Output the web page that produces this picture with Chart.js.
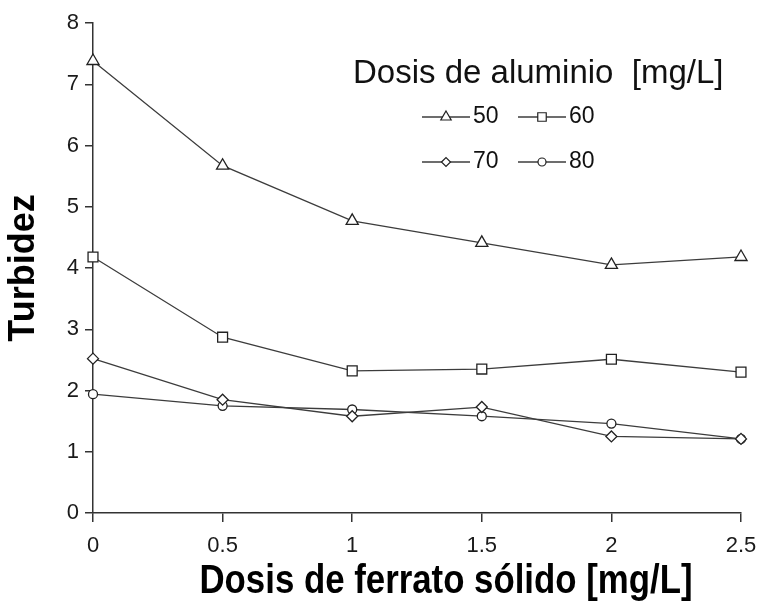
<!DOCTYPE html>
<html>
<head>
<meta charset="utf-8">
<script src="https://cdn.jsdelivr.net/npm/chart.js@4/dist/chart.umd.min.js"></script>
<style>
  html, body { margin: 0; padding: 0; background: #ffffff; }
  canvas { display: block; }
</style>
</head>
<body>
<canvas id="c" width="759" height="607"></canvas>
<script>
// ---- data ----
const doses = [0, 0.5, 1, 1.5, 2, 2.5];           // Dosis de ferrato sólido [mg/L]
const al50 = [7.38, 5.67, 4.77, 4.41, 4.05, 4.18];
const al60 = [4.18, 2.87, 2.32, 2.35, 2.51, 2.30];
const al70 = [2.52, 1.85, 1.58, 1.73, 1.25, 1.21];
const al80 = [1.94, 1.75, 1.69, 1.58, 1.46, 1.21];
const seriesLabels = ['50', '60', '70', '80'];
const seriesValues = [al50, al60, al70, al80];
const xTickValues = [0, 0.5, 1, 1.5, 2, 2.5];
const xTickLabels = ['0', '0.5', '1', '1.5', '2', '2.5'];
const yTickValues = [0, 1, 2, 3, 4, 5, 6, 7, 8];
const yTickLabels = ['0', '1', '2', '3', '4', '5', '6', '7', '8'];
const legendTitle = 'Dosis de aluminio  [mg/L]';
const xTitle = 'Dosis de ferrato sólido [mg/L]';
const yTitle = 'Turbidez';

const markerStyles = ['triangle', 'rect', 'rectRot', 'circle'];
const markerRadii = [7, 7, 5.5, 4.5];
const legendRadii = [6, 6, 4.5, 4];

const FONT = "'Liberation Sans', Arial, Helvetica, sans-serif";
const INK = '#1a1a1a';
const LINE = '#3c3c3c';

const datasets = seriesValues.map((vals, i) => ({
  label: seriesLabels[i],
  data: doses.map((d, j) => ({ x: d, y: vals[j] })),
  borderColor: LINE,
  borderWidth: 1.3,
  pointStyle: markerStyles[i],
  pointRadius: markerRadii[i],
  pointBackgroundColor: '#ffffff',
  pointBorderColor: '#222222',
  pointBorderWidth: 1.3,
  tension: 0,
  fill: false,
  clip: false
}));

function drawMarker(ctx, style, r, x, y) {
  ctx.beginPath();
  if (style === 'circle') {
    ctx.arc(x, y, r, 0, Math.PI * 2);
  } else if (style === 'rect') {
    const s = Math.SQRT1_2 * r;
    ctx.rect(x - s, y - s, 2 * s, 2 * s);
  } else if (style === 'rectRot') {
    ctx.moveTo(x - r, y); ctx.lineTo(x, y - r); ctx.lineTo(x + r, y); ctx.lineTo(x, y + r);
  } else if (style === 'triangle') {
    let a = 0;
    ctx.moveTo(x + Math.sin(a) * r, y - Math.cos(a) * r);
    a += 2 * Math.PI / 3;
    ctx.lineTo(x + Math.sin(a) * r, y - Math.cos(a) * r);
    a += 2 * Math.PI / 3;
    ctx.lineTo(x + Math.sin(a) * r, y - Math.cos(a) * r);
  }
  ctx.closePath();
  ctx.fill();
  ctx.stroke();
}

const annotationsPlugin = {
  id: 'legendAndTitle',
  afterDraw(chart) {
    const ctx = chart.ctx;
    ctx.save();
    // legend title
    ctx.fillStyle = '#111';
    ctx.font = '33px ' + FONT;
    ctx.textBaseline = 'middle';
    ctx.textAlign = 'left';
    ctx.fillText(legendTitle, 353, 74);

    // legend entries (2 x 2)
    const colX = [422, 518];
    const rowY = [117, 162];
    const lineLen = 48;
    chart.data.datasets.forEach((ds, i) => {
      const x0 = colX[i % 2];
      const y0 = rowY[Math.floor(i / 2)];
      ctx.strokeStyle = LINE;
      ctx.lineWidth = 1.3;
      ctx.beginPath();
      ctx.moveTo(x0, y0);
      ctx.lineTo(x0 + lineLen, y0);
      ctx.stroke();
      ctx.fillStyle = '#ffffff';
      ctx.strokeStyle = '#222222';
      ctx.lineWidth = 1.2;
      drawMarker(ctx, ds.pointStyle, legendRadii[i], x0 + lineLen / 2, y0);
      ctx.fillStyle = '#111';
      ctx.font = '23px ' + FONT;
      ctx.textBaseline = 'middle';
      ctx.textAlign = 'left';
      ctx.fillText(ds.label, x0 + lineLen + 3, y0);
    });

    // x axis title (tall, condensed bold lettering as in the reference)
    ctx.save();
    ctx.translate(446, 582);
    ctx.scale(0.87, 1);
    ctx.fillStyle = '#000';
    ctx.font = 'bold 40px ' + FONT;
    ctx.textAlign = 'center';
    ctx.textBaseline = 'middle';
    ctx.fillText(xTitle, 0, 0);
    ctx.restore();

    ctx.restore();
  }
};

new Chart(document.getElementById('c'), {
  type: 'line',
  data: { datasets },
  options: {
    responsive: false,
    animation: false,
    devicePixelRatio: 1,
    layout: { padding: { top: 23, right: 18, left: 0, bottom: 0 } },
    plugins: { legend: { display: false }, tooltip: { enabled: false } },
    scales: {
      x: {
        type: 'linear',
        min: 0, max: 2.5,
        afterFit(scale) { scale.height = 94; scale.paddingLeft = 0; scale.paddingRight = 0; },
        afterBuildTicks(scale) { scale.ticks = xTickValues.map(v => ({ value: v })); },
        ticks: {
          color: INK, font: { family: FONT, size: 22 }, padding: 11, maxRotation: 0, autoSkip: false,
          callback: (v) => xTickLabels[xTickValues.indexOf(v)]
        },
        grid: { drawOnChartArea: false, drawTicks: true, tickLength: 9, color: '#333', lineWidth: 1.5 },
        border: { display: true, color: '#333', width: 1.5 },
        title: { display: false, text: xTitle }
      },
      y: {
        min: 0, max: 8,
        afterFit(scale) { scale.width = 93; scale.paddingTop = 0; scale.paddingBottom = 0; },
        afterBuildTicks(scale) { scale.ticks = yTickValues.map(v => ({ value: v })); },
        ticks: {
          color: INK, font: { family: FONT, size: 22 }, padding: 6, autoSkip: false,
          callback: (v) => yTickLabels[yTickValues.indexOf(v)]
        },
        grid: { drawOnChartArea: false, drawTicks: true, tickLength: 8, color: '#333', lineWidth: 1.5 },
        border: { display: true, color: '#333', width: 1.5 },
        title: { display: true, text: yTitle, color: '#000', font: { family: FONT, size: 36, weight: 'bold' }, padding: { top: 2, bottom: 0 } }
      }
    }
  },
  plugins: [annotationsPlugin]
});
</script>
</body>
</html>
